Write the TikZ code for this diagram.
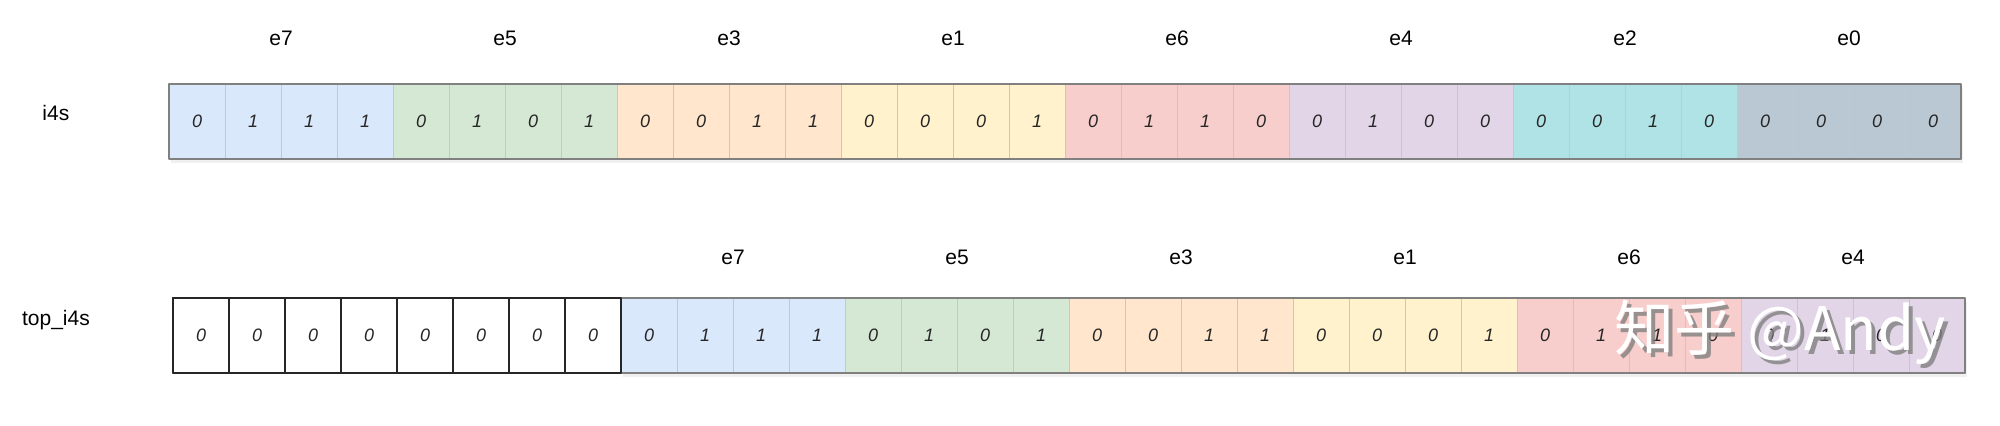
\documentclass[tikz,border=0pt]{standalone}
\usepackage{fontspec}
\setmainfont{Liberation Sans}
\newfontfamily\cjk{Noto Sans CJK SC}
\usetikzlibrary{shadows}

\definecolor{cblue}{HTML}{DAE8FC}
\definecolor{cgreen}{HTML}{D5E8D4}
\definecolor{corange}{HTML}{FFE6CC}
\definecolor{cyellow}{HTML}{FFF2CC}
\definecolor{cred}{HTML}{F8CECC}
\definecolor{cpurple}{HTML}{E1D5E7}
\definecolor{cteal}{HTML}{B0E3E6}
\definecolor{cslate}{HTML}{BAC8D3}

\tikzset{
  cell/.style={draw=black!22,line width=0.4pt,minimum width=28pt,minimum height=37.5pt,
    inner sep=0pt,outer sep=0pt,font=\itshape\fontsize{9}{9}\selectfont,text=black!85},
  zerocell/.style={cell,draw=black!85,line width=1pt,fill=white},
  rowline/.style={draw=black!50,line width=1pt},
  rowshadow/.style={fill=white,drop shadow={opacity=0.12,shadow xshift=0.8pt,shadow yshift=-1.8pt}},
  elabel/.style={font=\fontsize{10.5}{12}\selectfont},
  wmark/.style={font=\cjk\fontsize{30}{30}\selectfont,inner sep=0pt},
}

\begin{document}
\begin{tikzpicture}[x=28pt,y=37.5pt,line cap=round,line join=round]
\useasboundingbox (-3.018,2.12) rectangle (32.696,-3.547);

% i4s
\node[elabel] (lbl-i4s) at (-2.02,0.613) {i4s};
\fill[rowshadow] (0,0) rectangle (32,1);
\foreach \c/\bits/\e [count=\g from 0] in
  {cblue/{0,1,1,1}/e7,cgreen/{0,1,0,1}/e5,corange/{0,0,1,1}/e3,cyellow/{0,0,0,1}/e1,
   cred/{0,1,1,0}/e6,cpurple/{0,1,0,0}/e4,cteal/{0,0,1,0}/e2,cslate/{0,0,0,0}/e0}
{
  \node[elabel] (top-\e) at ({4*\g+2},1.613) {\e};
  \foreach \b [count=\k from 0] in \bits
    \node[cell,fill=\c] (i\g-\k) at ({4*\g+\k+0.5},0.5) {\b};
}
\draw[rowline] (0,0) rectangle (32,1);

% top_i4s
\begin{scope}[xshift=2pt,yshift=-107pt]
\node[elabel] (lbl-top) at (-2.09,0.706) {top\_i4s};
\foreach \k in {0,...,7}
  \node[zerocell] (z\k) at (\k+0.5,0.5) {0};
\fill[rowshadow] (8,0) rectangle (32,1);
\foreach \c/\bits/\e [count=\g from 2] in
  {cblue/{0,1,1,1}/e7,cgreen/{0,1,0,1}/e5,corange/{0,0,1,1}/e3,
   cyellow/{0,0,0,1}/e1,cred/{0,1,1,0}/e6,cpurple/{0,1,0,0}/e4}
{
  \node[elabel] (bot-\e) at ({4*\g+2},1.547) {\e};
  \foreach \b [count=\k from 0] in \bits
    \node[cell,fill=\c] (t\g-\k) at ({4*\g+\k+0.5},0.5) {\b};
}
\draw[rowline] (8,0) rectangle (32,1);
\draw[black!85,line width=1pt] (0,0) rectangle (8,1);
\end{scope}

% watermark
\node[wmark,text=black!50,opacity=0.8] (wm-shadow) at (28.84,-2.36) {知乎 @Andy};
\node[wmark,text=white] (wm) at (28.77,-2.307) {知乎 @Andy};
\end{tikzpicture}
\end{document}
